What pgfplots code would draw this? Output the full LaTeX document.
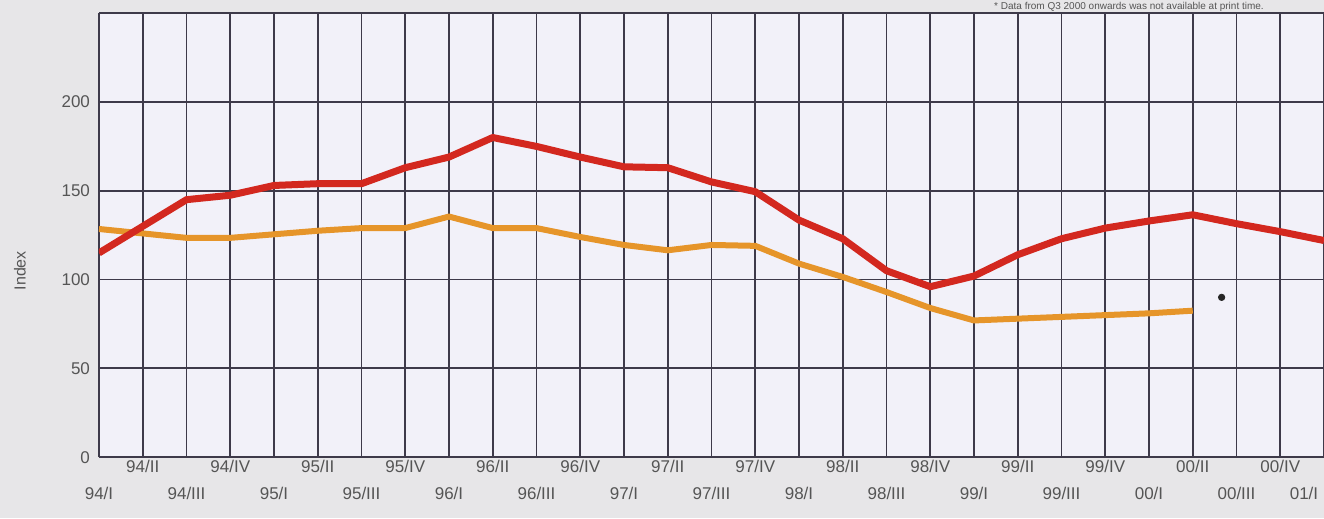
\documentclass[border=0pt]{standalone}
\usepackage{fontspec}
\setmainfont{Liberation Sans}
\usepackage{pgfplots}
\pgfplotsset{compat=1.18}
\definecolor{bgout}{HTML}{E7E6E8}
\definecolor{bgin}{HTML}{F2F1F9}
\definecolor{gridc}{HTML}{3E3A4A}
\definecolor{redl}{HTML}{D3281F}
\definecolor{orl}{HTML}{E6952A}
\definecolor{txt}{HTML}{555555}
\begin{document}
\begin{tikzpicture}
\path[use as bounding box, fill=bgout] (-49.5pt,-30.5pt) rectangle (612.5pt,228.6pt);
\begin{axis}[
  scale only axis, width=612.5pt, height=222pt,
  xmin=0, xmax=28, ymin=0, ymax=250,
  axis background/.style={fill=bgin},
  axis line style={draw=none},
  grid=both,
  major grid style={draw=gridc, line width=0.9pt},
  minor grid style={draw=gridc, line width=0.9pt},
  major tick length=0pt, minor tick length=0pt,
  ytick={0,50,100,150,200,250},
  yticklabels={0,50,100,150,200,{}},
  minor y tick num=0,
  xtick={1,3,...,27},
  minor xtick={0,2,...,28},
  xticklabels={94/II,94/IV,95/II,95/IV,96/II,96/IV,97/II,97/IV,98/II,98/IV,99/II,99/IV,00/II,00/IV},
  extra x ticks={0,2,...,28},
  extra x tick labels={94/I,94/III,95/I,95/III,96/I,96/III,97/I,97/III,98/I,98/III,99/I,99/III,00/I,00/III,{01/I\hspace*{20pt}}},
  extra x tick style={grid=none, xticklabel style={yshift=-13.5pt}},
  xticklabel style={anchor=center, yshift=-4.5pt, font=\fontsize{8.5}{9}\selectfont, text=txt},
  yticklabel style={font=\fontsize{8.5}{9}\selectfont, text=txt, xshift=-1pt},
  /pgf/number format/assume math mode=true,
  ylabel={Index},
  ylabel style={at={(axis description cs:-0.0645,0.42)}, anchor=center, font=\fontsize{8}{9}\selectfont, text=txt},
  clip mode=individual,
]
\addplot[orl, line width=3pt, line join=round] coordinates {
(0,128.5) (1,126) (2,123.5) (3,123.5) (4,125.5) (5,127.5) (6,129) (7,129) (8,135.5) (9,129)
(10,129) (11,124) (12,119.5) (13,116.5) (14,119.5) (15,119) (16,109) (17,101.5) (18,93) (19,84)
(20,77) (21,78) (22,79) (23,80) (24,81) (25,82.5)
};
\addplot[redl, line width=3.5pt, line join=round] coordinates {
(0,115) (1,130) (2,145) (3,147.5) (4,153) (5,154) (6,154) (7,163) (8,169) (9,180)
(10,175) (11,169) (12,163.5) (13,163) (14,155) (15,149.5) (16,133.5) (17,123) (18,105) (19,96)
(20,102) (21,114) (22,123) (23,129) (24,133) (25,136.5) (26,131.5) (27,127) (28,122)
};
\addplot[only marks, mark=*, mark size=1.6pt, black!85] coordinates {(25.66,90)};
\end{axis}
\node[anchor=center, font=\fontsize{5}{6}\selectfont, text=txt] at (515pt,225pt) {* Data from Q3 2000 onwards was not available at print time.};
\end{tikzpicture}
\end{document}
